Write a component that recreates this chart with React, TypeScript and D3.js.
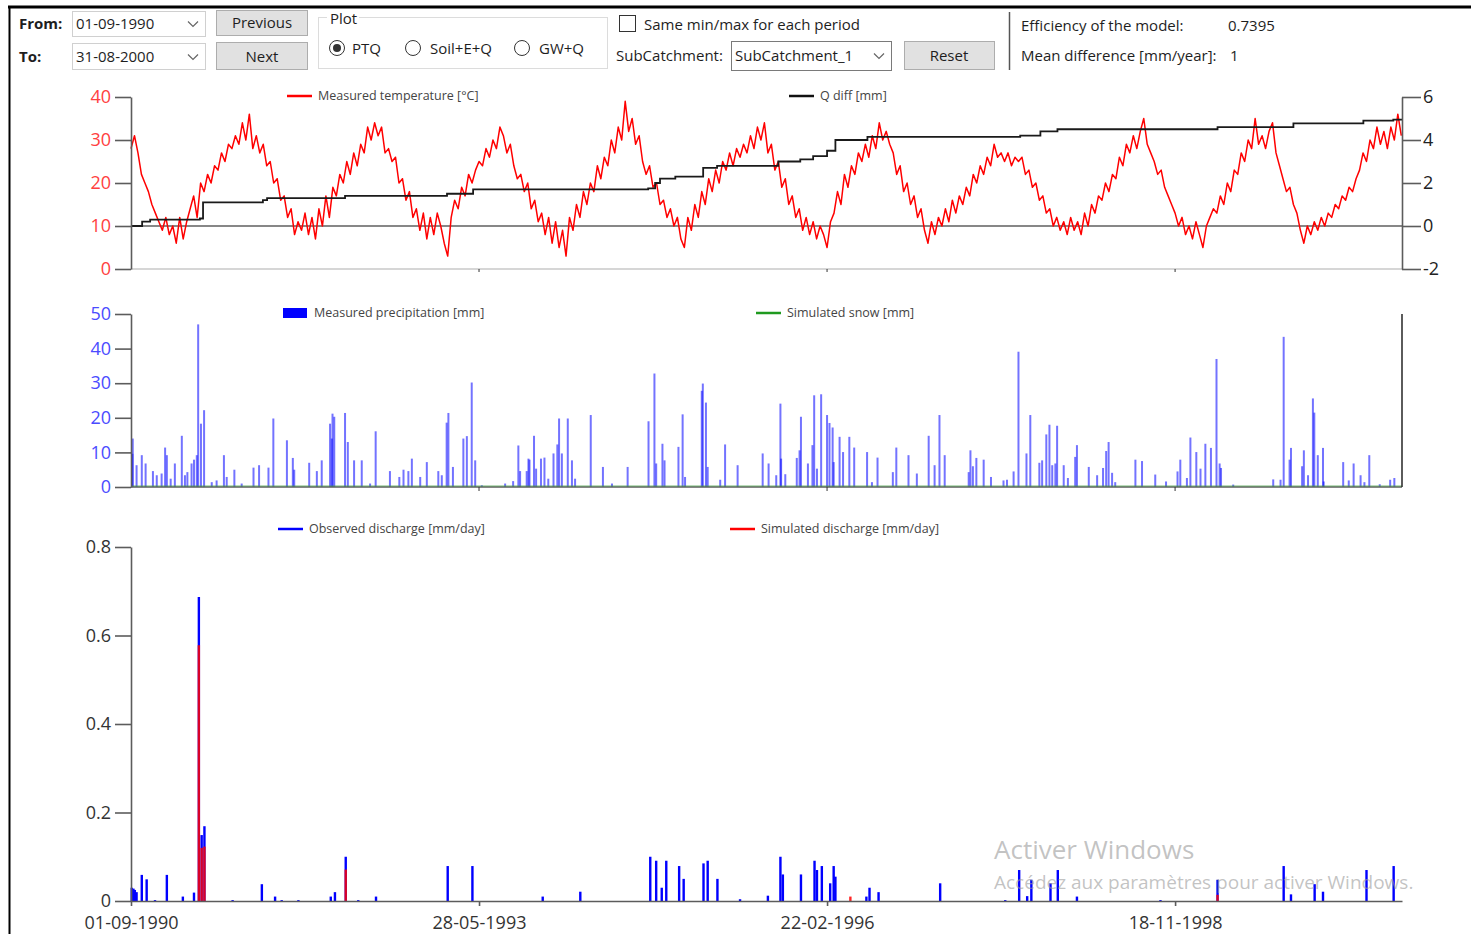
import { useEffect, useRef } from 'react';
import * as d3 from 'd3';

const FONT = "'Open Sans', 'Noto Sans', sans-serif";

const startDate = new Date(Date.UTC(1990, 8, 1));
const endDate = new Date(Date.UTC(2000, 7, 31));

// bottom axis: one label every 1000 days from the start
const xTickDays = [0, 1000, 2000, 3000];

const tempTicks = [0, 10, 20, 30, 40];
const qdiffTicks = [-2, 0, 2, 4, 6];
const precipTicks = [0, 10, 20, 30, 40, 50];
const dischargeTicks = [0, 0.2, 0.4, 0.6, 0.8];

// measured temperature [°C], one reading every 10 days from 01-09-1990
const tempStepDays = 10;
const temperature = [
	28, 31, 27, 22, 20, 18, 15, 13, 11, 9, 12, 8, 10, 6, 12, 7, 11, 14, 17, 12, 20, 18, 22, 20, 24, 23, 27, 25, 29, 28, 31, 29, 34, 30, 36, 28, 31,
	27, 29, 24, 25, 20, 21, 16, 17, 12, 14, 8, 11, 9, 13, 8, 12, 7, 14, 10, 17, 12, 19, 17, 22, 20, 25, 22, 27, 24, 29, 27, 33, 30, 34, 31, 33, 27,
	28, 25, 26, 20, 21, 16, 18, 12, 14, 9, 13, 7, 12, 8, 13, 10, 6, 3, 12, 16, 14, 19, 17, 22, 20, 23, 25, 24, 28, 26, 30, 28, 33, 31, 27, 29,
	24, 21, 22, 18, 20, 14, 16, 11, 13, 8, 12, 6, 11, 5, 9, 3, 12, 9, 15, 12, 18, 15, 20, 18, 24, 21, 26, 24, 30, 27, 33, 30, 39, 32, 35, 29, 31,
	25, 22, 24, 19, 20, 15, 16, 12, 14, 10, 12, 7, 5, 12, 9, 15, 12, 18, 15, 21, 18, 23, 20, 25, 23, 27, 24, 28, 26, 29, 27, 31, 28, 33, 30, 34,
	27, 29, 23, 25, 19, 21, 15, 17, 12, 14, 9, 12, 8, 11, 7, 10, 8, 5, 11, 13, 18, 15, 22, 19, 24, 22, 27, 25, 29, 26, 31, 28, 34, 30, 32, 29, 27,
	22, 24, 18, 20, 15, 17, 12, 14, 9, 6, 11, 8, 12, 10, 14, 11, 16, 13, 17, 15, 19, 17, 22, 20, 24, 22, 26, 24, 29, 26, 27, 25, 27, 24, 26, 25,
	26, 22, 23, 19, 20, 16, 17, 13, 14, 10, 12, 9, 11, 8, 12, 9, 11, 8, 13, 10, 15, 13, 17, 16, 20, 18, 22, 21, 26, 24, 29, 27, 31, 28, 32, 35, 29,
	27, 25, 22, 23, 19, 17, 15, 13, 10, 12, 8, 10, 7, 11, 8, 5, 10, 12, 14, 13, 17, 15, 20, 18, 23, 22, 27, 25, 30, 28, 35, 29, 31, 28, 32, 34, 27,
	24, 21, 18, 19, 15, 13, 9, 6, 10, 8, 11, 9, 12, 10, 13, 12, 15, 14, 17, 16, 19, 18, 21, 23, 27, 25, 30, 28, 33, 29, 32, 28, 33, 30, 36, 31,
];

// cumulative Q diff [mm] (right axis)
const qdiffDay = [0, 32, 55, 198, 207, 379, 391, 615, 908, 983, 1486, 1506, 1520, 1564, 1644, 1684, 1860, 1923, 1960, 2000, 2024, 2116, 2555, 2613, 2662, 3122, 3340, 3541, 3627, 3652];
const qdiffMm = [0, 0.2, 0.3, 0.35, 1.1, 1.2, 1.3, 1.4, 1.5, 1.7, 1.75, 2.0, 2.2, 2.3, 2.7, 2.8, 3.0, 3.1, 3.25, 3.5, 4.0, 4.15, 4.2, 4.4, 4.5, 4.6, 4.77, 4.9, 4.95, 4.95];

// measured precipitation [mm]: day after 01-09-1990 and amount
const precipDay = [
	4, 5, 16, 31, 42, 63, 74, 88, 98, 103, 114, 126, 146, 155, 162, 174, 181, 189, 193, 201, 210, 232, 246, 267, 275, 297, 318, 352, 368, 395,
	409, 448, 465, 469, 512, 534, 548, 572, 577, 579, 584, 615, 623, 641, 663, 687, 703, 744, 771, 783, 797, 807, 831, 850, 883, 893, 907, 912,
	925, 955, 965, 979, 989, 1008, 1075, 1098, 1113, 1118, 1137, 1142, 1145, 1158, 1164, 1178, 1188, 1199, 1214, 1225, 1230, 1238, 1255, 1267,
	1276, 1321, 1356, 1382, 1427, 1487, 1504, 1509, 1527, 1533, 1573, 1585, 1592, 1640, 1643, 1652, 1657, 1693, 1707, 1743, 1815, 1832, 1854,
	1866, 1868, 1880, 1913, 1921, 1925, 1945, 1958, 1963, 1971, 1983, 2000, 2007, 2016, 2019, 2036, 2046, 2064, 2078, 2115, 2129, 2145, 2189,
	2199, 2234, 2258, 2292, 2309, 2323, 2338, 2407, 2412, 2419, 2429, 2450, 2471, 2507, 2517, 2536, 2550, 2573, 2584, 2610, 2618, 2630, 2639,
	2647, 2656, 2661, 2680, 2692, 2713, 2718, 2752, 2776, 2793, 2802, 2809, 2819, 2828, 2886, 2905, 2943, 2974, 3007, 3015, 3034, 3044, 3061,
	3073, 3087, 3103, 3119, 3128, 3132, 3167, 3282, 3303, 3312, 3329, 3333, 3365, 3370, 3382, 3396, 3400, 3410, 3425, 3427, 3483, 3499, 3513,
	3533, 3544, 3558, 3588, 3618, 3630,
];
const precipMm = [
	9.6, 14, 6.3, 9.2, 6.8, 4.6, 3.4, 3.9, 11.4, 9.2, 2.4, 6.8, 14.8, 3.4, 4.3, 6.8, 7.9, 9.2, 47, 18.3, 22.2, 1.4, 1.9, 9.2, 2.9, 5, 1, 5.6, 6.3, 5.6,
	19.8, 13.5, 8.4, 5, 7, 4.6, 7.7, 18.3, 14, 21.2, 20.3, 21.4, 13, 7.7, 7.7, 1, 16.1, 4.6, 2.9, 5, 4.6, 8.2, 2.9, 7.2, 4.6, 3.4, 18.6, 21.4,
	5.8, 14, 14.7, 30.2, 7.7, 0.5, 1, 1.7, 12, 4.6, 4.6, 8.2, 7.9, 14.8, 5.3, 8.2, 8.5, 2.4, 9.7, 12.3, 19.8, 9.7, 19.8, 7.7,
	2.4, 20.8, 5.8, 1, 5.8, 19, 32.8, 6.8, 12.5, 7.7, 11.6, 21, 2.9, 27.8, 29.9, 24.4, 5.8, 2.1, 12.3, 6.3, 9.7, 6.8, 3.4,
	24.1, 8.2, 3.7, 8.4, 10.6, 20.3, 6.8, 12.1, 26.5, 5.3, 26.8, 20.8, 18.5, 17.2, 7.2, 14.5, 10.1, 14.5, 11.4, 10.1, 1.4, 8.5, 4.3,
	11.4, 9.2, 3.9, 14.8, 6.3, 20.8, 9.2, 4.3, 10.6, 6, 8.4, 7.9, 2.9, 1.9, 2.1, 4.5, 39.1, 9.7, 20.8, 7, 7.7, 15.2, 18,
	6.3, 6.8, 17.7, 6.3, 2.6, 8.7, 12.1, 5.8, 3.4, 5.5, 10.4, 13, 4.1, 1.4, 7.9, 7.5, 3.6, 1.6, 4.5, 7.9, 2.6, 14.3, 10.1,
	5.3, 12.5, 11.3, 37, 6.8, 5.5, 0.7, 2.2, 2.1, 43.4, 7.9, 11.3, 6, 10.6, 3.4, 25.6, 21.5, 9.2, 11.3, 1.6, 7.2, 1.9, 6.8,
	3.4, 1.4, 9.2, 0.8, 2.1, 2.6,
];

// observed discharge [mm/day]
const obsDay = [
	2, 7, 11, 16, 31, 45, 69, 103, 149, 181, 195, 203, 211, 292, 376, 414, 433, 481, 574, 586, 617, 653, 704, 910, 981, 1183, 1291,
	1492, 1509, 1525, 1538, 1575, 1588, 1645, 1657, 1685, 1750, 1830, 1866, 1873, 1925, 1964, 1971, 1985, 2009, 2019, 2024, 2113, 2122,
	2148, 2325, 2512, 2552, 2575, 2587, 2642, 2663, 2718, 2958, 3122, 3312, 3333, 3401, 3425, 3550, 3628,
];
const obsQ = [
	0.03, 0.028, 0.025, 0.02, 0.059, 0.049, 0.002, 0.059, 0.01, 0.019, 0.687, 0.149, 0.169, 0.002, 0.038, 0.01, 0.002, 0.002, 0.01, 0.02, 0.1, 0.002, 0.01, 0.079, 0.079, 0.01, 0.021,
	0.1, 0.091, 0.03, 0.091, 0.079, 0.05, 0.085, 0.091, 0.05, 0.004, 0.012, 0.1, 0.06, 0.06, 0.091, 0.07, 0.079, 0.04, 0.079, 0.055, 0.01, 0.03,
	0.02, 0.04, 0.002, 0.07, 0.011, 0.048, 0.04, 0.07, 0.01, 0.002, 0.048, 0.079, 0.015, 0.038, 0.021, 0.07, 0.079,
];

// simulated discharge [mm/day]
const simDay = [195, 203, 211, 617, 2067, 3122];
const simQ = [0.578, 0.12, 0.123, 0.071, 0.01, 0.014];

const tempColor = '#ff0000';
const tempLabelColor = '#ff4040';
const precipColor = '#0000ff';
const precipLabelColor = '#4b4bff';
const axisColor = '#5c5c5c';

export default function App() {
	const chartRef = useRef<SVGGElement>(null);

	useEffect(() => {
		if (!chartRef.current) return;
		const root = d3.select(chartRef.current);
		root.selectAll('*').remove();

		const left = 131;
		const right = 1402;
		const dayToDate = (d: number) => d3.utcDay.offset(startDate, d);

		const x = d3.scaleUtc().domain([startDate, endDate]).range([left, right]);
		const yTemp = d3.scaleLinear().domain([0, 40]).range([269, 97]);
		const yQdiff = d3.scaleLinear().domain([-2, 6]).range([269, 97]);
		const yPrecip = d3.scaleLinear().domain([0, 50]).range([487, 314]);
		const yFlow = d3.scaleLinear().domain([0, 0.8]).range([901, 547]);

		const xTicks = xTickDays.map(dayToDate);

		const styleAxis = (g: any, labelColor: string) => {
			g.attr('font-family', FONT).attr('font-size', 18);
			g.select('.domain').attr('stroke', axisColor).attr('stroke-width', 1.6);
			g.selectAll('.tick line').attr('stroke', axisColor).attr('stroke-width', 1.6);
			g.selectAll('.tick text').attr('fill', labelColor);
		};

		// ---------- top panel: temperature + Q diff ----------
		const top = root.append('g').attr('class', 'panel-temp');

		top.append('line')
			.attr('x1', left).attr('x2', right)
			.attr('y1', 269).attr('y2', 269)
			.attr('stroke', '#c8c8c8').attr('stroke-width', 1.5);
		top.selectAll('.xtick')
			.data(xTicks.slice(1))
			.enter()
			.append('line')
			.attr('x1', (d) => x(d)).attr('x2', (d) => x(d))
			.attr('y1', 269).attr('y2', 272)
			.attr('stroke', '#333');

		top.append('line')
			.attr('x1', left).attr('x2', right)
			.attr('y1', yQdiff(0)).attr('y2', yQdiff(0))
			.attr('stroke', '#111').attr('stroke-width', 1.2);

		const tempLine = d3.line<number>()
			.x((_, i) => x(dayToDate(i * tempStepDays)))
			.y((d) => yTemp(d));

		top.append('path')
			.datum(temperature)
			.attr('fill', 'none')
			.attr('stroke', tempColor)
			.attr('stroke-width', 1.5)
			.attr('stroke-linejoin', 'round')
			.attr('d', tempLine);

		const qdiffLine = d3.line<number>()
			.x((d) => x(dayToDate(d)))
			.y((_, i) => yQdiff(qdiffMm[i]))
			.curve(d3.curveStepAfter);

		top.append('path')
			.datum(qdiffDay)
			.attr('fill', 'none')
			.attr('stroke', '#1a1a1a')
			.attr('stroke-width', 1.8)
			.attr('d', qdiffLine);

		top.append('g')
			.attr('transform', `translate(${left},0)`)
			.call(d3.axisLeft(yTemp).tickValues(tempTicks).tickSize(16).tickSizeOuter(0).tickPadding(4).tickFormat((d) => String(d)))
			.call((g) => styleAxis(g, tempLabelColor));

		top.append('g')
			.attr('transform', `translate(${right},0)`)
			.call(d3.axisRight(yQdiff).tickValues(qdiffTicks).tickSize(19).tickSizeOuter(0).tickPadding(2).tickFormat((d) => String(d)))
			.call((g) => styleAxis(g, '#222'));

		// ---------- middle panel: precipitation ----------
		const mid = root.append('g').attr('class', 'panel-precip');

		mid.selectAll('.bar')
			.data(precipDay)
			.enter()
			.append('rect')
			.attr('class', 'bar')
			.attr('x', (d) => x(dayToDate(d)) - 1)
			.attr('width', 2)
			.attr('y', (_, i) => yPrecip(precipMm[i]))
			.attr('height', (_, i) => yPrecip(0) - yPrecip(precipMm[i]))
			.attr('fill', precipColor)
			.attr('fill-opacity', 0.55);

		mid.append('line')
			.attr('x1', left).attr('x2', right)
			.attr('y1', 487).attr('y2', 487)
			.attr('stroke', axisColor).attr('stroke-width', 1.6);
		mid.append('line')
			.attr('x1', left).attr('x2', right)
			.attr('y1', 486).attr('y2', 486)
			.attr('stroke', '#3f9a3f').attr('stroke-width', 1).attr('opacity', 0.7);
		mid.selectAll('.xtick')
			.data(xTicks.slice(1))
			.enter()
			.append('line')
			.attr('x1', (d) => x(d)).attr('x2', (d) => x(d))
			.attr('y1', 487).attr('y2', 491)
			.attr('stroke', '#333');
		mid.append('line')
			.attr('x1', right).attr('x2', right)
			.attr('y1', 314).attr('y2', 487)
			.attr('stroke', '#333').attr('stroke-width', 1.6);

		mid.append('g')
			.attr('transform', `translate(${left},0)`)
			.call(d3.axisLeft(yPrecip).tickValues(precipTicks).tickSize(16).tickSizeOuter(0).tickPadding(4).tickFormat((d) => String(d)))
			.call((g) => styleAxis(g, precipLabelColor));

		// ---------- bottom panel: discharge ----------
		const bot = root.append('g').attr('class', 'panel-flow');

		bot.selectAll('.obs')
			.data(obsDay)
			.enter()
			.append('rect')
			.attr('x', (d) => x(dayToDate(d)) - 1.2)
			.attr('width', 2.4)
			.attr('y', (_, i) => yFlow(obsQ[i]))
			.attr('height', (_, i) => yFlow(0) - yFlow(obsQ[i]))
			.attr('fill', '#0000ff');

		bot.selectAll('.sim')
			.data(simDay)
			.enter()
			.append('rect')
			.attr('x', (d) => x(dayToDate(d)) - 1.2)
			.attr('width', 2.4)
			.attr('y', (_, i) => yFlow(simQ[i]))
			.attr('height', (_, i) => yFlow(0) - yFlow(simQ[i]))
			.attr('fill', '#ff0000')
			.attr('fill-opacity', 0.85);

		bot.append('g')
			.attr('transform', `translate(${left},0)`)
			.call(d3.axisLeft(yFlow).tickValues(dischargeTicks).tickSize(16).tickSizeOuter(0).tickPadding(4).tickFormat((d) => String(d)))
			.call((g) => styleAxis(g, '#333'));

		bot.append('g')
			.attr('transform', `translate(0,${yFlow(0)})`)
			.call(d3.axisBottom(x).tickValues(xTicks).tickSize(5).tickSizeOuter(0).tickPadding(10).tickFormat((d) => d3.utcFormat('%d-%m-%Y')(d as Date)))
			.call((g) => styleAxis(g, '#333'));

		// ---------- legends ----------
		const legendText = (g: any, lx: number, ly: number, label: string) =>
			g.append('text')
				.attr('x', lx).attr('y', ly).attr('dy', '0.35em')
				.attr('font-family', FONT).attr('font-size', 12.5)
				.attr('fill', '#444')
				.text(label);

		const lineKey = (lx: number, ly: number, color: string, label: string) => {
			const g = root.append('g');
			g.append('line')
				.attr('x1', lx).attr('x2', lx + 25)
				.attr('y1', ly).attr('y2', ly)
				.attr('stroke', color).attr('stroke-width', 2.5);
			legendText(g, lx + 31, ly, label);
		};

		lineKey(287, 96, tempColor, 'Measured temperature [°C]');
		lineKey(789, 96, '#111', 'Q diff [mm]');
		const pk = root.append('g');
		pk.append('rect').attr('x', 283).attr('y', 308).attr('width', 24).attr('height', 10).attr('fill', precipColor);
		legendText(pk, 314, 313, 'Measured precipitation [mm]');
		lineKey(756, 313, '#1f9a1f', 'Simulated snow [mm]');
		lineKey(278, 529, precipColor, 'Observed discharge [mm/day]');
		lineKey(730, 529, tempColor, 'Simulated discharge [mm/day]');
	}, []);

	const ctl = { fontFamily: FONT, fontSize: 15, fill: '#1e1e1e' } as const;

	const chevron = (cx: number, cy: number) => (
		<polyline
			points={`${cx - 5},${cy - 2.5} ${cx},${cy + 2.5} ${cx + 5},${cy - 2.5}`}
			fill="none"
			stroke="#666"
			strokeWidth={1.2}
		/>
	);

	return (
		<div style={{ position: 'absolute', left: 0, top: 0 }}>
			<svg width={1471} height={934} style={{ display: 'block', background: '#fff' }}>
				{/* window frame */}
				<line x1={8} x2={1471} y1={7} y2={7} stroke="#000" strokeWidth={3} />
				<line x1={9.5} x2={9.5} y1={6} y2={934} stroke="#000" strokeWidth={2} />

				{/* date range controls */}
				<text x={19} y={29} {...ctl} fontWeight="bold">From:</text>
				<text x={19} y={62} {...ctl} fontWeight="bold">To:</text>
				<rect x={72.5} y={11.5} width={133} height={25} fill="#fff" stroke="#d0d0d0" />
				<text x={76} y={29} {...ctl}>01-09-1990</text>
				{chevron(193, 24)}
				<rect x={72.5} y={43.5} width={133} height={26} fill="#fff" stroke="#d0d0d0" />
				<text x={76} y={62} {...ctl}>31-08-2000</text>
				{chevron(193, 57)}

				<rect x={216.5} y={10.5} width={91} height={25} fill="#e1e1e1" stroke="#adadad" />
				<text x={262} y={28} {...ctl} textAnchor="middle">Previous</text>
				<rect x={216.5} y={42.5} width={91} height={27} fill="#e1e1e1" stroke="#adadad" />
				<text x={262} y={62} {...ctl} textAnchor="middle">Next</text>

				{/* plot type */}
				<rect x={318.5} y={17.5} width={289} height={51} fill="none" stroke="#dcdcdc" />
				<rect x={327} y={10} width={32} height={14} fill="#fff" />
				<text x={330} y={24} {...ctl}>Plot</text>
				<circle cx={337} cy={48} r={7.5} fill="#fff" stroke="#333" />
				<circle cx={337} cy={48} r={4} fill="#333" />
				<text x={352} y={54} {...ctl}>PTQ</text>
				<circle cx={413} cy={48} r={7.5} fill="#fff" stroke="#333" />
				<text x={430} y={54} {...ctl}>Soil+E+Q</text>
				<circle cx={522} cy={48} r={7.5} fill="#fff" stroke="#333" />
				<text x={539} y={54} {...ctl}>GW+Q</text>

				{/* options */}
				<rect x={619.5} y={15.5} width={16} height={16} fill="#fff" stroke="#333" />
				<text x={644} y={30} {...ctl}>Same min/max for each period</text>
				<text x={616} y={61} {...ctl}>SubCatchment:</text>
				<rect x={731.5} y={41.5} width={160} height={29} fill="#fff" stroke="#7a7a7a" />
				<text x={735} y={61} {...ctl}>SubCatchment_1</text>
				{chevron(879, 56)}
				<rect x={904.5} y={41.5} width={90} height={28} fill="#e1e1e1" stroke="#adadad" />
				<text x={949} y={61} {...ctl} textAnchor="middle">Reset</text>

				<line x1={1009.5} x2={1009.5} y1={12} y2={70} stroke="#555" strokeWidth={1.5} />
				<text x={1021} y={31} {...ctl}>Efficiency of the model:</text>
				<text x={1228} y={31} {...ctl}>0.7395</text>
				<text x={1021} y={61} {...ctl}>Mean difference [mm/year]:</text>
				<text x={1230} y={61} {...ctl}>1</text>

				<g ref={chartRef} />

				{/* activation watermark */}
				<text x={994} y={859} fontFamily={FONT} fontSize={26} fill="#9a9a9a" fillOpacity={0.6}>Activer Windows</text>
				<text x={994} y={889} fontFamily={FONT} fontSize={19} fill="#9a9a9a" fillOpacity={0.6}>Accédez aux paramètres pour activer Windows.</text>
			</svg>
		</div>
	);
}
